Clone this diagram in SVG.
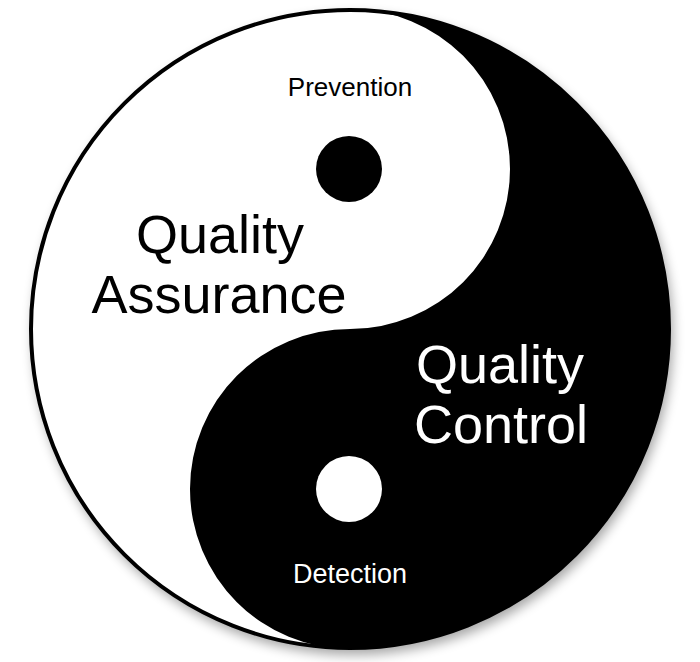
<svg xmlns="http://www.w3.org/2000/svg" width="700" height="662" viewBox="0 0 700 662">
  <defs>
    <filter id="shadow" x="-10%" y="-10%" width="120%" height="120%">
      <feGaussianBlur stdDeviation="6"/>
    </filter>
  </defs>
  <style>
    text { font-family: "Liberation Sans", Arial, sans-serif; text-anchor: middle; }
    .dark { fill: #000; }
    .light { fill: #fff; }
    .big { font-size: 54px; }
    .small { font-size: 26px; }
  </style>
  <rect width="700" height="662" fill="#fff"/>
  <g id="shadow-layer">
    <circle cx="353" cy="335" r="320" fill="#000" opacity="0.35" filter="url(#shadow)"/>
  </g>
  <g id="yinyang">
    <circle cx="350" cy="329" r="320" fill="#fff"/>
    <path class="dark" d="M350,9 A320,320 0 0 1 350,649 A160,160 0 0 1 350,329 A160,160 0 0 0 350,9 Z"/>
    <circle cx="350" cy="329" r="319" fill="none" stroke="#000" stroke-width="4"/>
  </g>
  <g id="dot-prevention">
    <circle class="dark" cx="349" cy="169" r="33"/>
  </g>
  <g id="dot-detection">
    <circle class="light" cx="349" cy="489" r="33"/>
  </g>
  <g id="label-prevention">
    <text class="small dark" x="350" y="96">Prevention</text>
  </g>
  <g id="label-detection">
    <text class="light" x="350" y="583" style="font-size:27px">Detection</text>
  </g>
  <g id="node-quality-assurance">
    <text class="big dark" x="220" y="253">Quality</text>
    <text class="big dark" x="219" y="313">Assurance</text>
  </g>
  <g id="node-quality-control">
    <text class="big light" x="500" y="383">Quality</text>
    <text class="big light" x="501" y="443">Control</text>
  </g>
  <g id="connectors"/>
</svg>
